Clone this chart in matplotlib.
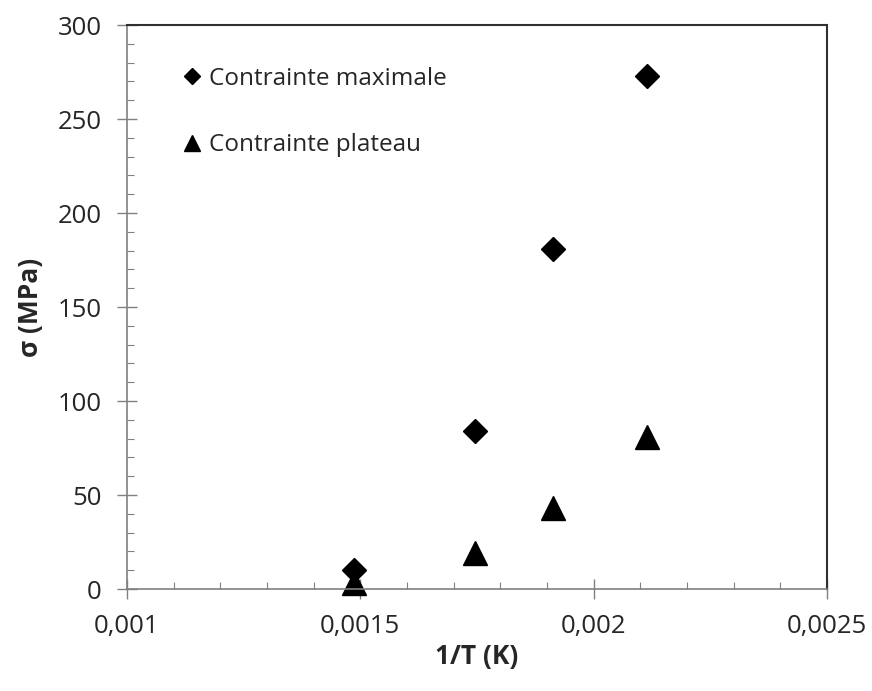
import matplotlib
matplotlib.use("Agg")
import matplotlib.pyplot as plt
from matplotlib.ticker import FixedLocator, MultipleLocator, FuncFormatter

plt.rcParams['font.family'] = ['Open Sans', 'DejaVu Sans']

# 1/T (K^-1) for 400, 300, 250 and 200 °C
inv_T = [0.001486, 0.001745, 0.001912, 0.002114]
sigma_max = [10, 84, 181, 273]
sigma_plateau = [3, 19, 43, 81]

x_ticks = [0.001, 0.0015, 0.002, 0.0025]
y_ticks = [0, 50, 100, 150, 200, 250, 300]

fig = plt.figure(figsize=(8.72, 6.91), dpi=100)
ax = fig.add_axes([0.1456, 0.1476, 0.8028, 0.8162])

ax.plot(inv_T, sigma_max, linestyle='none', marker='D', markersize=12.5,
        color='black', label='Contrainte maximale')
ax.plot(inv_T, sigma_plateau, linestyle='none', marker='^', markersize=17,
        color='black', label='Contrainte plateau', clip_on=False)

ax.set_xlim(0.001, 0.0025)
ax.set_ylim(0, 300)
ax.xaxis.set_major_locator(FixedLocator(x_ticks))
ax.yaxis.set_major_locator(FixedLocator(y_ticks))
ax.xaxis.set_minor_locator(MultipleLocator(0.0001))
ax.yaxis.set_minor_locator(MultipleLocator(10))
ax.xaxis.set_major_formatter(FuncFormatter(lambda v, p: ('%g' % v).replace('.', ',')))

for s in ['left', 'bottom']:
    ax.spines[s].set_color('#808080')
    ax.spines[s].set_linewidth(1.2)
for s in ['top', 'right']:
    ax.spines[s].set_color('#303030')
    ax.spines[s].set_linewidth(1.5)

ax.tick_params(which='major', direction='inout', length=14, width=1.0,
               color='#808080', labelsize=18.5, labelcolor='#262626', pad=11)
ax.tick_params(which='minor', direction='in', length=5, width=0.8, color='#808080')

ax.set_xlabel('1/T (K)', fontsize=19, fontweight='bold', color='#262626', labelpad=3)
ax.set_ylabel('σ (MPa)', fontsize=19, fontweight='bold', color='#262626', labelpad=10)

ax.legend(loc='upper left', bbox_to_anchor=(0.05, 0.965), frameon=False,
          fontsize=17.5, handlelength=0.7, handletextpad=0.35, labelspacing=1.75,
          markerscale=0.65, labelcolor='#262626')

fig.savefig('out.png', dpi=100)
